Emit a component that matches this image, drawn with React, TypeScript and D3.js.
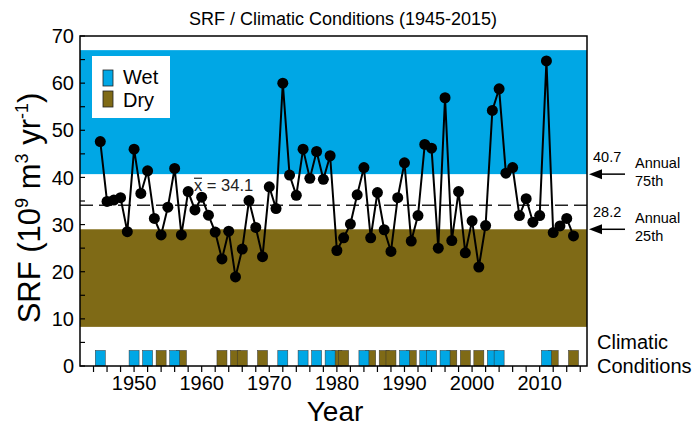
import React from "react";
import * as d3 from "d3";

const years: number[] = d3.range(1945, 2016);
const srf: number[] = [
  47.6, 34.9, 35.2, 35.7, 28.5, 46.0, 36.6, 41.4, 31.3, 27.8,
  33.7, 41.9, 27.8, 37.0, 33.1, 35.8, 32.0, 28.4, 22.7, 28.6,
  18.9, 24.8, 35.1, 29.4, 23.2, 38.0, 33.4, 60.0, 40.5, 36.2,
  46.0, 39.8, 45.5, 39.6, 44.6, 24.5, 27.2, 30.1, 36.3, 42.1,
  27.2, 36.8, 28.9, 24.3, 35.7, 43.1, 26.5, 31.9, 47.0, 46.2,
  25.0, 56.9, 26.6, 37.0, 24.0, 30.8, 21.0, 29.8, 54.2, 58.8,
  40.9, 42.1, 31.9, 35.5, 30.5, 31.9, 64.7, 28.3, 29.7, 31.3,
  27.6,
];
const wetYears: number[] = [1945, 1950, 1952, 1956, 1972, 1975, 1977, 1979, 1984, 1990, 1993, 1994, 1996, 2003, 2004, 2011];
const dryYears: number[] = [1954, 1957, 1963, 1965, 1966, 1969, 1980, 1981, 1985, 1987, 1988, 1991, 1997, 1999, 2001, 2012, 2015];
const meanValue = 34.1;
const q75 = 40.7;
const q25 = 28.2;
const wetBand: [number, number] = [40.7, 67];
const dryBand: [number, number] = [8.3, 29];
const conditionHeight = 3.3;
const xTickLabels: number[] = [1950, 1960, 1970, 1980, 1990, 2000, 2010];
const yTickLabels: number[] = [0, 10, 20, 30, 40, 50, 60, 70];

const BLUE = "#00A7E5";
const BROWN = "#7F6A16";
const FONT = "'Liberation Sans', Arial, sans-serif";

export default function App() {
  const W = 700, H = 431;
  const left = 80, right = 587, top = 36, bottom = 366;
  const x = d3.scaleLinear().domain([1942, 2017]).range([left, right]);
  const y = d3.scaleLinear().domain([0, 70]).range([bottom, top]);
  const pts = years.map((yr, i) => [yr, srf[i]] as [number, number]);
  const line = d3.line<[number, number]>().x(d => x(d[0])).y(d => y(d[1]));
  const barW = x(1.48) - x(0);
  const xMinor = d3.range(1944, 2017, 2);
  const yMinor = d3.range(5, 70, 10);
  const arrowAt = (v: number, label: string, word2: string) => {
    const yy = y(v);
    return (
      <g key={label}>
        <line x1={right + 10} x2={right + 38} y1={yy} y2={yy} stroke="#000" strokeWidth={1.5} />
        <polygon points={`${right + 2},${yy} ${right + 15},${yy - 5} ${right + 15},${yy + 5}`} fill="#000" />
        <text x={right + 6} y={yy - 12} fontSize={14.5} fontFamily={FONT}>{label}</text>
        <text x={right + 48} y={yy - 6} fontSize={14.5} fontFamily={FONT}>Annual</text>
        <text x={right + 48} y={yy + 12} fontSize={14.5} fontFamily={FONT}>{word2}</text>
      </g>
    );
  };
  return (
    <div style={{ position: "fixed", left: 0, top: 0 }}>
      <svg width={W} height={H} style={{ display: "block", background: "#fff" }}>
        <rect x={left} y={y(wetBand[1])} width={right - left} height={y(wetBand[0]) - y(wetBand[1])} fill={BLUE} />
        <rect x={left} y={y(dryBand[1])} width={right - left} height={y(dryBand[0]) - y(dryBand[1])} fill={BROWN} />
        <rect x={92} y={56} width={78} height={62} fill="#fff" />
        <rect x={103} y={70} width={10} height={16} fill={BLUE} stroke="#222" strokeWidth={0.8} />
        <rect x={103} y={91} width={10} height={16} fill={BROWN} stroke="#222" strokeWidth={0.8} />
        <text x={123} y={84} fontSize={20} fontFamily={FONT}>Wet</text>
        <text x={123} y={107} fontSize={20} fontFamily={FONT}>Dry</text>
        <line x1={left} x2={right} y1={y(meanValue)} y2={y(meanValue)} stroke="#222" strokeWidth={1.6} strokeDasharray="13,6" />
        <text x={194} y={y(meanValue) - 14} fontSize={16.5} fontFamily={FONT} fill="#222">x = {meanValue.toFixed(1)}</text>
        <line x1={194} x2={202} y1={y(meanValue) - 27} y2={y(meanValue) - 27} stroke="#222" strokeWidth={1.2} />
        <path d={line(pts) || ""} fill="none" stroke="#000" strokeWidth={2} />
        {pts.map(d => (
          <circle key={d[0]} cx={x(d[0])} cy={y(d[1])} r={5.5} fill="#000" />
        ))}
        {dryYears.map(yr => (
          <rect key={"d" + yr} x={x(yr) - barW / 2} y={y(conditionHeight)} width={barW} height={y(0) - y(conditionHeight)} fill={BROWN} stroke="#333" strokeWidth={0.5} />
        ))}
        {wetYears.map(yr => (
          <rect key={"w" + yr} x={x(yr) - barW / 2} y={y(conditionHeight)} width={barW} height={y(0) - y(conditionHeight)} fill={BLUE} stroke="#333" strokeWidth={0.5} />
        ))}
        <rect x={left} y={top} width={right - left} height={bottom - top} fill="none" stroke="#000" strokeWidth={1.5} />
        {yTickLabels.map(v => (
          <g key={"y" + v}>
            <line x1={left} x2={left + 5} y1={y(v)} y2={y(v)} stroke="#000" strokeWidth={1.2} />
            <text x={left - 6} y={y(v)} dy="0.36em" textAnchor="end" fontSize={20} fontFamily={FONT}>{v}</text>
          </g>
        ))}
        {yMinor.map(v => (
          <line key={"ym" + v} x1={left} x2={left + 5} y1={y(v)} y2={y(v)} stroke="#000" strokeWidth={1.2} />
        ))}
        {xMinor.map(v => (
          <line key={"xm" + v} x1={x(v)} x2={x(v)} y1={bottom} y2={bottom + 6} stroke="#000" strokeWidth={1.2} />
        ))}
        {xTickLabels.map(v => (
          <text key={"xl" + v} x={x(v)} y={bottom + 24} textAnchor="middle" fontSize={20} fontFamily={FONT}>{v}</text>
        ))}
        <text x={335} y={421} textAnchor="middle" fontSize={28} fontFamily={FONT}>Year</text>
        <text transform="translate(40,208) rotate(-90)" textAnchor="middle" fontSize={31} fontFamily={FONT}>
          SRF (10<tspan dy={-12} fontSize={18}>9</tspan><tspan dy={12}> m</tspan><tspan dy={-12} fontSize={18}>3</tspan><tspan dy={12}> yr</tspan><tspan dy={-12} fontSize={18}>-1</tspan><tspan dy={12}>)</tspan>
        </text>
        <text x={343} y={25} textAnchor="middle" fontSize={18} fontFamily={FONT}>SRF / Climatic Conditions (1945-2015)</text>
        {arrowAt(q75, q75.toFixed(1), "75th")}
        {arrowAt(dryBand[1], q25.toFixed(1), "25th")}
        <text x={597} y={349} fontSize={20} fontFamily={FONT}>Climatic</text>
        <text x={597} y={373} fontSize={20} fontFamily={FONT}>Conditions</text>
      </svg>
    </div>
  );
}
